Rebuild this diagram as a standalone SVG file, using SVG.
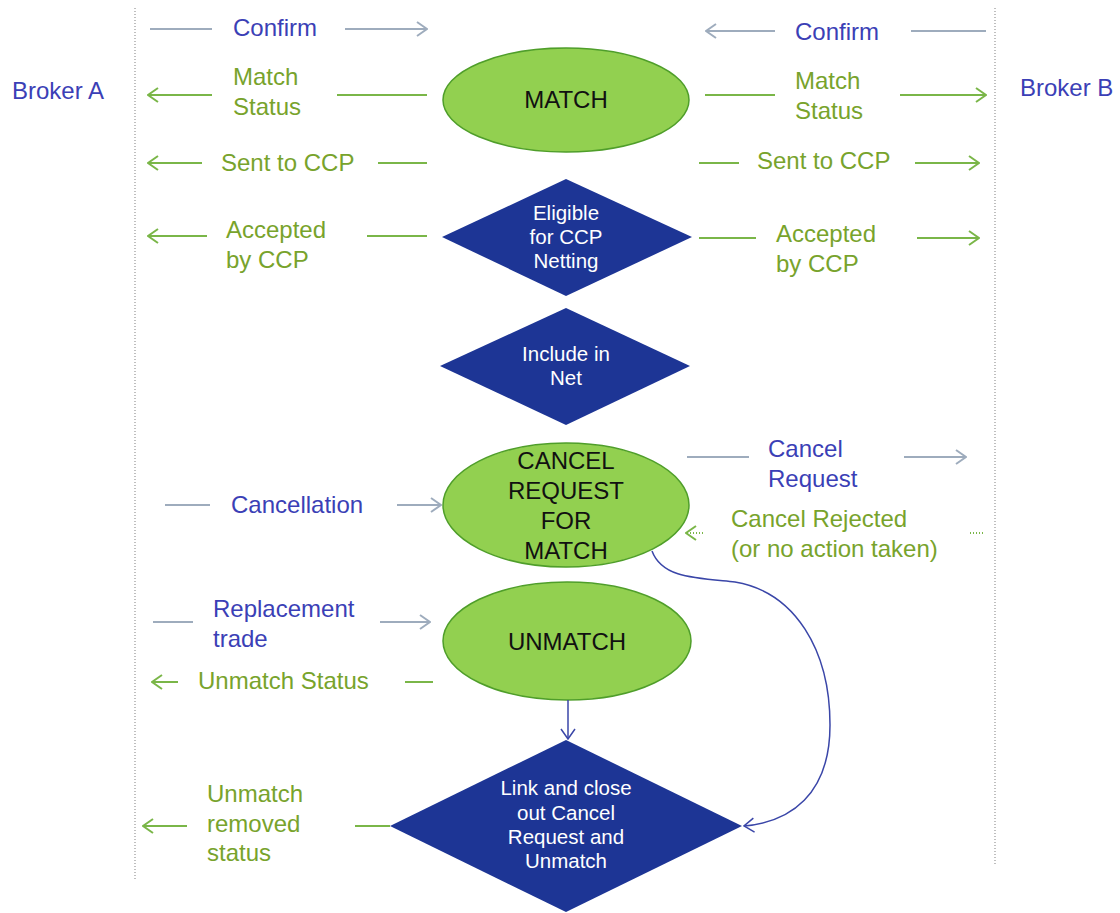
<svg xmlns="http://www.w3.org/2000/svg" width="1120" height="913" viewBox="0 0 1120 913">
<defs>
<style>
.lbl{font-family:"Liberation Sans",Arial,sans-serif;font-size:24px}
.blue{fill:#3b3fb6}
.grn{fill:#78a32c}
.node{font-family:"Liberation Sans",Arial,sans-serif;font-size:24px;fill:#111;text-anchor:middle}
.dtxt{font-family:"Liberation Sans",Arial,sans-serif;font-size:20.5px;fill:#fff;text-anchor:middle}
.ell{fill:#92d050;stroke:#4f9e2a;stroke-width:1.5}
.dia{fill:#1d3595}
.gl{stroke:#9eacbd;stroke-width:2;fill:none}
.gr{stroke:#7ab648;stroke-width:2;fill:none}
.dot{stroke:#7ab648;stroke-width:2;fill:none;stroke-dasharray:1,2}
.bl{stroke:#3a46a8;stroke-width:1.5;fill:none}
.sep{stroke:#aaaaaa;stroke-width:1.5;stroke-dasharray:1,2}
</style>
<marker id="ag" viewBox="0 0 12 16" refX="11" refY="8" markerWidth="12" markerHeight="16" markerUnits="userSpaceOnUse" orient="auto-start-reverse"><path d="M1,1 L11,8 L1,15" fill="none" stroke="#9eacbd" stroke-width="2"/></marker>
<marker id="ar" viewBox="0 0 12 16" refX="11" refY="8" markerWidth="12" markerHeight="16" markerUnits="userSpaceOnUse" orient="auto-start-reverse"><path d="M1,1 L11,8 L1,15" fill="none" stroke="#7ab648" stroke-width="2"/></marker>
<marker id="ab" viewBox="0 0 12 16" refX="11" refY="8" markerWidth="12" markerHeight="16" markerUnits="userSpaceOnUse" orient="auto"><path d="M1,1 L11,8 L1,15" fill="none" stroke="#3a46a8" stroke-width="1.5"/></marker>
</defs>
<rect width="1120" height="913" fill="#fff"/>
<g id="separators">
<line class="sep" x1="135" y1="8" x2="135" y2="880"/>
<line class="sep" x1="995" y1="8" x2="995" y2="866"/>
</g>
<g id="broker-a"><text class="lbl blue" x="12" y="99">Broker A</text></g>
<g id="broker-b"><text class="lbl blue" x="1020" y="96">Broker B</text></g>
<g id="match"><ellipse class="ell" cx="566" cy="100" rx="123" ry="52"/><text class="node" x="566" y="108">MATCH</text></g>
<g id="eligible"><polygon class="dia" points="566,179 692,237 566,296 442,237"/><text class="dtxt"><tspan x="566" y="220">Eligible</tspan><tspan x="566" y="244">for CCP</tspan><tspan x="566" y="268">Netting</tspan></text></g>
<g id="include"><polygon class="dia" points="566,308 690,366 566,425 440,366"/><text class="dtxt"><tspan x="566" y="361">Include in</tspan><tspan x="566" y="385">Net</tspan></text></g>
<g id="cancel-request"><ellipse class="ell" cx="566" cy="505" rx="123" ry="62"/><text class="node"><tspan x="566" y="469">CANCEL</tspan><tspan x="566" y="499">REQUEST</tspan><tspan x="566" y="529">FOR</tspan><tspan x="566" y="559">MATCH</tspan></text></g>
<g id="unmatch"><ellipse class="ell" cx="567" cy="641" rx="124" ry="59"/><text class="node" x="567" y="650">UNMATCH</text></g>
<g id="link"><polygon class="dia" points="566,740 742,826 566,912 390,826"/><text class="dtxt"><tspan x="566" y="795">Link and close</tspan><tspan x="566" y="820">out Cancel</tspan><tspan x="566" y="844">Request and</tspan><tspan x="566" y="868">Unmatch</tspan></text></g>
<g id="connectors">
<line class="gl" x1="150" y1="29" x2="212" y2="29"/><line class="gl" x1="345" y1="29" x2="427" y2="29" marker-end="url(#ag)"/>
<line class="gr" x1="212" y1="95" x2="148" y2="95" marker-end="url(#ar)"/><line class="gr" x1="337" y1="95" x2="427" y2="95"/>
<line class="gr" x1="202" y1="163" x2="148" y2="163" marker-end="url(#ar)"/><line class="gr" x1="378" y1="163" x2="427" y2="163"/>
<line class="gr" x1="207" y1="236" x2="148" y2="236" marker-end="url(#ar)"/><line class="gr" x1="367" y1="236" x2="427" y2="236"/>
<line class="gl" x1="775" y1="31" x2="706" y2="31" marker-end="url(#ag)"/><line class="gl" x1="911" y1="31" x2="986" y2="31"/>
<line class="gr" x1="705" y1="95" x2="775" y2="95"/><line class="gr" x1="900" y1="95" x2="986" y2="95" marker-end="url(#ar)"/>
<line class="gr" x1="699" y1="163" x2="739" y2="163"/><line class="gr" x1="915" y1="163" x2="979" y2="163" marker-end="url(#ar)"/>
<line class="gr" x1="699" y1="238" x2="756" y2="238"/><line class="gr" x1="917" y1="238" x2="979" y2="238" marker-end="url(#ar)"/>
<line class="gl" x1="165" y1="505" x2="210" y2="505"/><line class="gl" x1="397" y1="505" x2="441" y2="505" marker-end="url(#ag)"/>
<line class="gl" x1="687" y1="457" x2="749" y2="457"/><line class="gl" x1="904" y1="457" x2="966" y2="457" marker-end="url(#ag)"/>
<line class="dot" x1="703" y1="533" x2="686" y2="533" marker-end="url(#ar)"/><line class="dot" x1="970" y1="533" x2="983" y2="533"/>
<line class="gl" x1="153" y1="622" x2="193" y2="622"/><line class="gl" x1="380" y1="622" x2="430" y2="622" marker-end="url(#ag)"/>
<line class="gr" x1="178" y1="682" x2="152" y2="682" marker-end="url(#ar)"/><line class="gr" x1="405" y1="682" x2="433" y2="682"/>
<line class="gr" x1="187" y1="826" x2="143" y2="826" marker-end="url(#ar)"/><line class="gr" x1="355" y1="826" x2="390" y2="826"/>
<line class="bl" x1="568" y1="700" x2="568" y2="739" marker-end="url(#ab)"/>
<path class="bl" d="M652,551 C662,578 695,578 735,582 C795,592 830,650 830,725 C830,795 790,822 744,826" marker-end="url(#ab)"/>
</g>
<g id="labels">
<text class="lbl blue" x="233" y="36">Confirm</text>
<text class="lbl grn"><tspan x="233" y="85">Match</tspan><tspan x="233" y="115">Status</tspan></text>
<text class="lbl grn" x="221" y="171">Sent to CCP</text>
<text class="lbl grn"><tspan x="226" y="238">Accepted</tspan><tspan x="226" y="268">by CCP</tspan></text>
<text class="lbl blue" x="795" y="40">Confirm</text>
<text class="lbl grn"><tspan x="795" y="89">Match</tspan><tspan x="795" y="119">Status</tspan></text>
<text class="lbl grn" x="757" y="169">Sent to CCP</text>
<text class="lbl grn"><tspan x="776" y="242">Accepted</tspan><tspan x="776" y="272">by CCP</tspan></text>
<text class="lbl blue" x="231" y="513">Cancellation</text>
<text class="lbl blue"><tspan x="768" y="457">Cancel</tspan><tspan x="768" y="487">Request</tspan></text>
<text class="lbl grn"><tspan x="731" y="527">Cancel Rejected</tspan><tspan x="731" y="557">(or no action taken)</tspan></text>
<text class="lbl blue"><tspan x="213" y="617">Replacement</tspan><tspan x="213" y="647">trade</tspan></text>
<text class="lbl grn" x="198" y="689">Unmatch Status</text>
<text class="lbl grn"><tspan x="207" y="802">Unmatch</tspan><tspan x="207" y="832">removed</tspan><tspan x="207" y="861">status</tspan></text>
</g>
</svg>
